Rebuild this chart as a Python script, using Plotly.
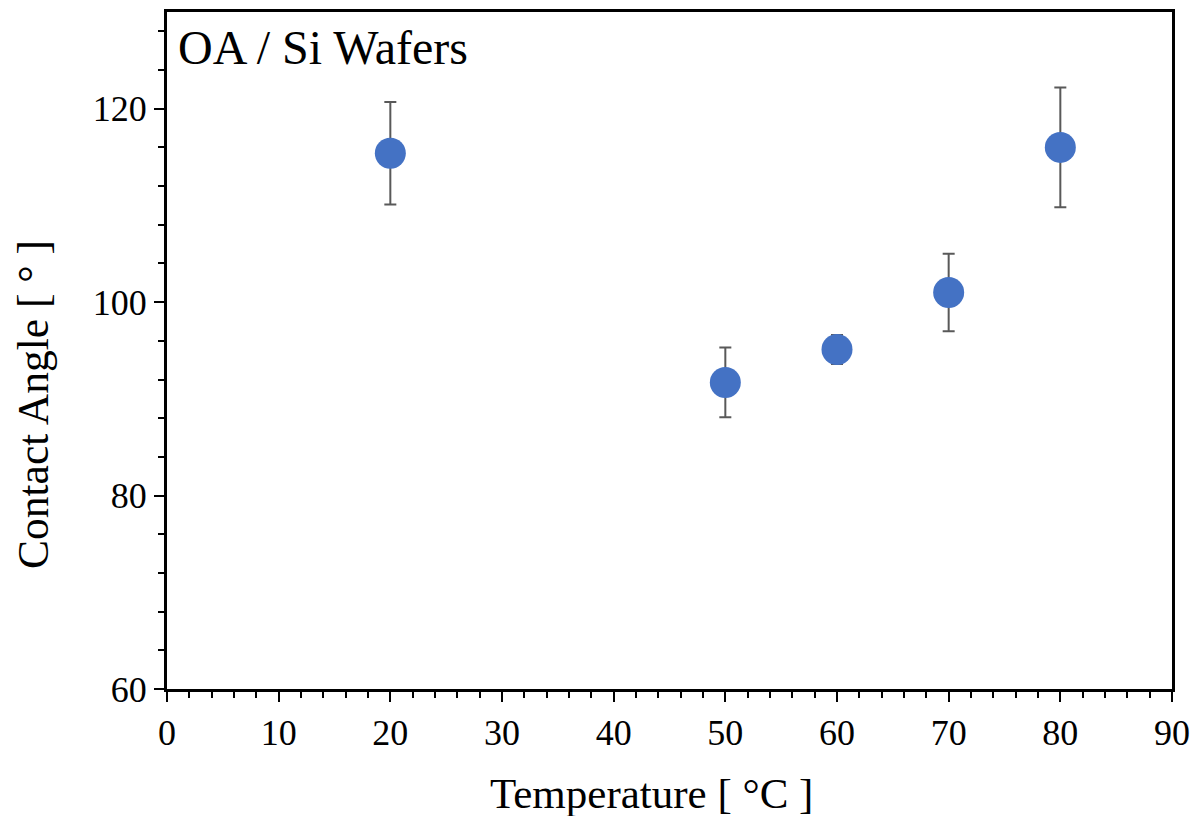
import plotly.graph_objects as go

temperature = [20, 50, 60, 70, 80]
contact_angle = [115.4, 91.7, 95.1, 101.0, 116.0]
angle_error = [5.3, 3.6, 1.5, 4.0, 6.2]

FONT = "Liberation Serif, Times New Roman, serif"

fig = go.Figure()
fig.add_trace(go.Scatter(
    x=temperature, y=contact_angle, mode="markers",
    marker=dict(size=31, color="#4472C4"),
    error_y=dict(type="data", array=angle_error, visible=True,
                 color="#595959", thickness=2, width=6),
    showlegend=False,
))

axis_common = dict(
    showline=True, linecolor="black", linewidth=3, mirror=True,
    showgrid=False, zeroline=False, ticks="outside", ticklen=10,
    tickwidth=2, tickcolor="black",
    tickfont=dict(family=FONT, size=36, color="black"),
)

fig.update_xaxes(range=[0, 90], dtick=10, tick0=0,
                 minor=dict(ticks="outside", dtick=2, ticklen=6, tickwidth=2, tickcolor="black"),
                 **axis_common)
fig.update_yaxes(range=[60, 130], dtick=20, tick0=60,
                 minor=dict(ticks="outside", dtick=4, ticklen=6, tickwidth=2, tickcolor="black"),
                 **axis_common)

pw, ph = 1005, 677
fig.add_annotation(text="Temperature [ °C ]", xref="paper", yref="paper",
                   x=(651 - 167) / pw, y=(689 - 793) / ph, showarrow=False,
                   xanchor="center", yanchor="middle",
                   font=dict(family=FONT, size=43, color="black"))
fig.add_annotation(text="Contact Angle [ ° ]", xref="paper", yref="paper",
                   x=(33 - 167) / pw, y=(689 - 405) / ph, showarrow=False,
                   textangle=-90, xanchor="center", yanchor="middle",
                   font=dict(family=FONT, size=43.5, color="black"))
fig.add_annotation(text="OA / Si Wafers", xref="paper", yref="paper",
                   x=9 / pw, y=(689 - 48) / ph, showarrow=False,
                   xanchor="left", yanchor="middle",
                   font=dict(family=FONT, size=48, color="black"))

fig.update_layout(
    width=1200, height=816,
    margin=dict(l=159, r=36, t=4, b=135, autoexpand=False),
    plot_bgcolor="white", paper_bgcolor="white",
)

fig.write_html("out.html")
